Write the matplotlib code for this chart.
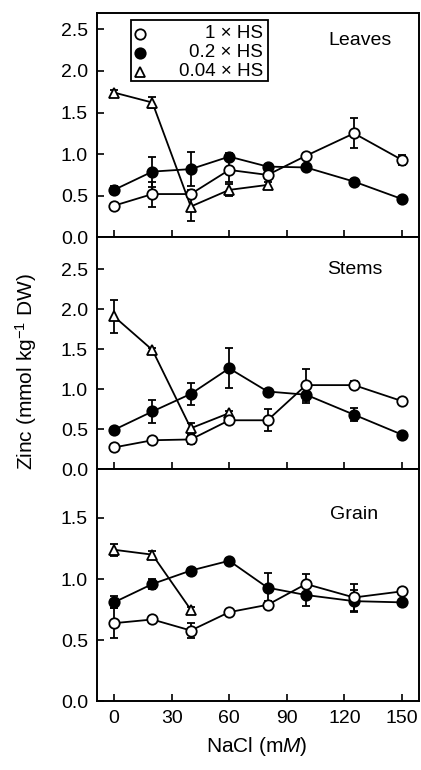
import matplotlib
matplotlib.use("Agg")
import matplotlib.pyplot as plt
from matplotlib.patches import Rectangle

plt.rcParams['font.family'] = ['Liberation Sans', 'DejaVu Sans']
plt.rcParams['mathtext.fontset'] = 'custom'
plt.rcParams['mathtext.rm'] = 'Liberation Sans'
plt.rcParams['mathtext.it'] = 'Liberation Sans:italic'

# NaCl concentrations (mM)
nacl = [0, 20, 40, 60, 80, 100, 125, 150]
nacl_low = [0, 20, 40, 60, 80]
nacl_grain_low = [0, 20, 40]

# Leaves
leaves_1hs = [0.38, 0.52, 0.52, 0.81, 0.75, 0.98, 1.25, 0.93]
leaves_1hs_err = [0.03, 0.15, 0.05, 0.15, 0.04, 0.03, 0.18, 0.06]
leaves_02hs = [0.57, 0.79, 0.82, 0.97, 0.85, 0.84, 0.67, 0.46]
leaves_02hs_err = [0.05, 0.18, 0.20, 0.04, 0.03, 0.03, 0.03, 0.03]
leaves_004hs = [1.74, 1.62, 0.37, 0.57, 0.63]
leaves_004hs_err = [0.03, 0.07, 0.17, 0.07, 0.03]

# Stems
stems_1hs = [0.27, 0.36, 0.37, 0.61, 0.61, 1.05, 1.05, 0.85]
stems_1hs_err = [0.04, 0.02, 0.06, 0.03, 0.14, 0.20, 0.05, 0.02]
stems_02hs = [0.49, 0.72, 0.94, 1.26, 0.97, 0.93, 0.68, 0.43]
stems_02hs_err = [0.03, 0.14, 0.14, 0.25, 0.03, 0.11, 0.08, 0.02]
stems_004hs = [1.91, 1.49, 0.51, 0.70]
stems_004hs_err = [0.21, 0.03, 0.07, 0.03]

# Grain
grain_1hs = [0.64, 0.67, 0.58, 0.73, 0.79, 0.96, 0.85, 0.90]
grain_1hs_err = [0.12, 0.03, 0.06, 0.02, 0.03, 0.08, 0.11, 0.02]
grain_02hs = [0.81, 0.96, 1.07, 1.15, 0.93, 0.87, 0.82, 0.81]
grain_02hs_err = [0.05, 0.04, 0.02, 0.02, 0.12, 0.09, 0.09, 0.02]
grain_004hs = [1.24, 1.20, 0.75]
grain_004hs_err = [0.05, 0.03, 0.02]

labels = ['1 × HS', '0.2 × HS', '0.04 × HS']
xticks = [0, 30, 60, 90, 120, 150]

fig = plt.figure(figsize=(4.21, 7.70), dpi=100)
left, width = 0.2304, 0.766
ax1 = fig.add_axes([left, 0.6918, width, 0.2917])
ax2 = fig.add_axes([left, 0.3909, width, 0.3009])
ax3 = fig.add_axes([left, 0.0890, width, 0.3019])

panels = [
    (ax1, 'Leaves', 2.70, [0, 0.5, 1.0, 1.5, 2.0, 2.5],
     leaves_1hs, leaves_1hs_err, leaves_02hs, leaves_02hs_err,
     nacl_low, leaves_004hs, leaves_004hs_err, (0.814, 0.876)),
    (ax2, 'Stems', 2.90, [0, 0.5, 1.0, 1.5, 2.0, 2.5],
     stems_1hs, stems_1hs_err, stems_02hs, stems_02hs_err,
     nacl_low[:4], stems_004hs, stems_004hs_err, (0.799, 0.862)),
    (ax3, 'Grain', 1.90, [0, 0.5, 1.0, 1.5],
     grain_1hs, grain_1hs_err, grain_02hs, grain_02hs_err,
     nacl_grain_low, grain_004hs, grain_004hs_err, (0.797, 0.806)),
]

style = dict(color='black', lw=1.3, elinewidth=1.3, capsize=2.8,
             capthick=1.3, markersize=7.5, markeredgewidth=1.3)

for ax, name, ytop, yticks, y1, e1, y2, e2, x3, y3, e3, lpos in panels:
    ax.errorbar(nacl, y2, yerr=e2, fmt='-o', mfc='black', mec='black', zorder=2, **style)
    ax.errorbar(x3, y3, yerr=e3, fmt='-^', mfc='white', mec='black', zorder=3, **style)
    ax.errorbar(nacl, y1, yerr=e1, fmt='-o', mfc='white', mec='black', zorder=4, **style)
    ax.set_xlim(-8.85, 159.1)
    ax.set_ylim(0, ytop)
    ax.set_yticks(yticks)
    ax.set_yticklabels(['%.1f' % v for v in yticks])
    ax.set_xticks(xticks)
    ax.tick_params(direction='in', length=5, width=1.2, labelsize=14, pad=6.5)
    ax.tick_params(axis='x', pad=6)
    for s in ax.spines.values():
        s.set_linewidth(1.4)
    ax.text(lpos[0], lpos[1], name, transform=ax.transAxes, ha='center',
            va='center', fontsize=14)

ax1.tick_params(axis='x', labelbottom=False)
ax2.tick_params(axis='x', labelbottom=False)
ax3.set_xticklabels([str(v) for v in xticks])
fig.text(0.611, 0.030, 'NaCl (m$\\mathit{M}$)', ha='center', va='center', fontsize=15)
fig.text(0.062, 0.517, 'Zinc (mmol kg$^{-1}$ DW)', rotation=90, ha='center',
         va='center', fontsize=15)

# legend box drawn by hand so the labels stay right-aligned
ax1.add_patch(Rectangle((0.105, 0.698), 0.424, 0.271, transform=ax1.transAxes,
                        fill=False, lw=1.3, ec='black', zorder=6))
leg_rows = [0.907, 0.822, 0.738]
leg_style = [dict(marker='o', mfc='white'), dict(marker='o', mfc='black'),
             dict(marker='^', mfc='white')]
for yy, lab, st in zip(leg_rows, labels, leg_style):
    ax1.plot([0.133], [yy], transform=ax1.transAxes, ls='none', mec='black',
             markersize=7.5, markeredgewidth=1.3, zorder=7, **st)
    ax1.text(0.514, yy, lab, transform=ax1.transAxes, ha='right', va='center',
             fontsize=13.5, zorder=7)

fig.savefig('out.png', dpi=100)
